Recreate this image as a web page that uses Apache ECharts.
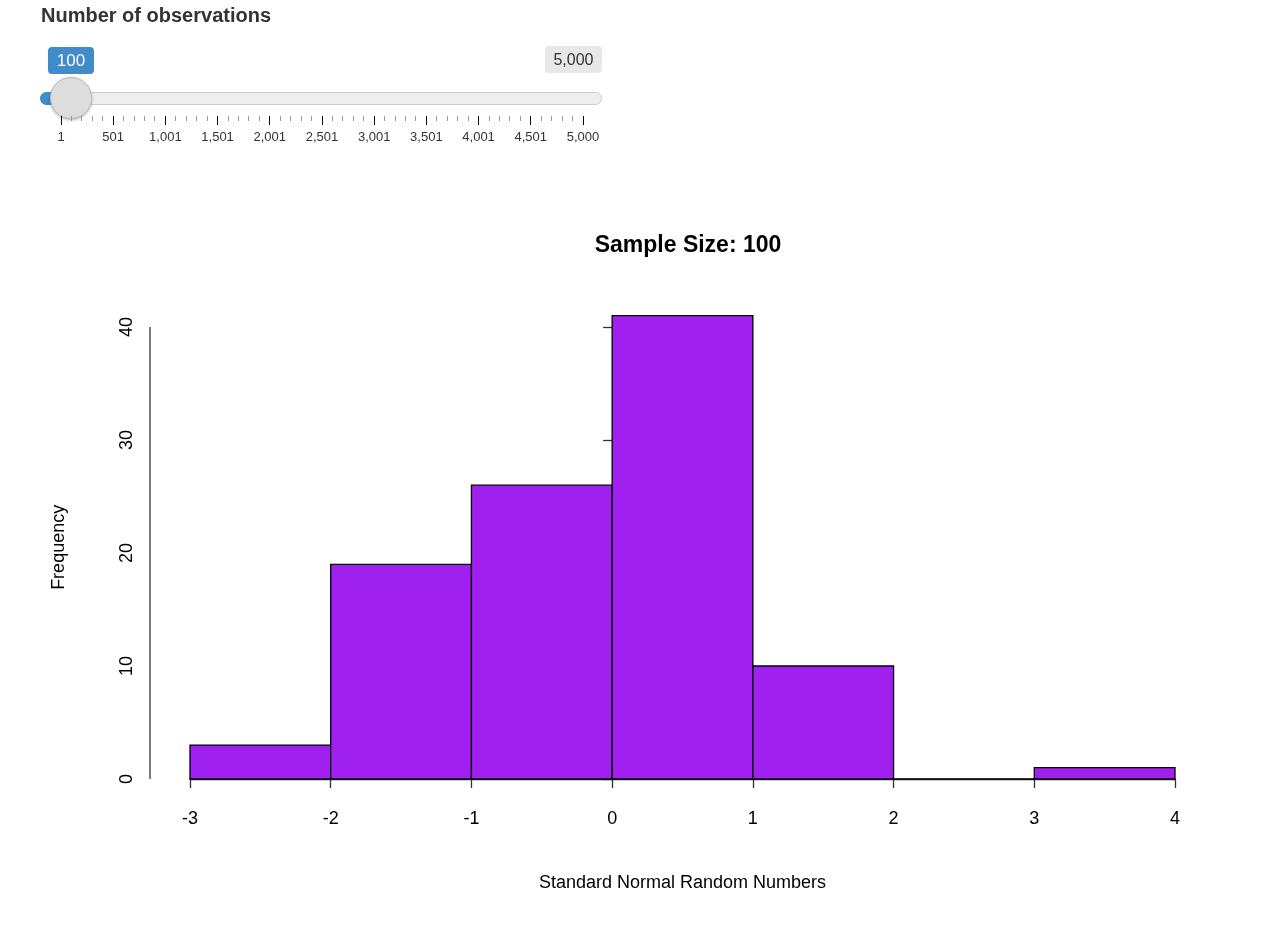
<!DOCTYPE html>
<html><head><meta charset="utf-8">
<script src="https://cdn.jsdelivr.net/npm/echarts@6/dist/echarts.min.js"></script>
<style>
body{margin:0;width:1275px;height:937px;background:#fff;font-family:"Liberation Sans",Arial,sans-serif;position:relative;overflow:hidden}
#chart{position:absolute;left:0;top:0;width:1275px;height:937px}
.abs{position:absolute}
#sl{position:absolute;left:0;top:0;width:640px;height:160px;z-index:2}
</style></head><body>
<div id="chart"></div>
<div id="sl">
 <div class="abs" style="left:41px;top:4px;font-size:20px;font-weight:bold;color:#333">Number of observations</div>
 <div class="abs" style="left:48px;top:47px;width:46px;height:27px;background:#428bca;border-radius:4px;color:#fff;font-size:17px;line-height:27px;text-align:center">100</div>
 <div class="abs" style="left:545px;top:46px;width:57px;height:27px;background:#e8e8e8;border-radius:4px;color:#333;font-size:16px;line-height:27px;text-align:center">5,000</div>
 <div class="abs" style="left:40px;top:92px;width:562px;height:13px;background:#eee;border:1px solid #ccc;border-radius:7px;box-sizing:border-box"></div>
 <div class="abs" style="left:40px;top:92px;width:32px;height:13px;background:#428bca;border-radius:7px 0 0 7px"></div>
 <div class="abs" style="left:50px;top:77px;width:42px;height:42px;background:#ddd;border:1px solid #bbb;border-radius:50%;box-sizing:border-box;box-shadow:0 1px 3px rgba(0,0,0,.3)"></div>
 <div id="ticks"></div>
</div>
<script>
const sliderLabels=["1","501","1,001","1,501","2,001","2,501","3,001","3,501","4,001","4,501","5,000"];
const binEdges=[-3,-2,-1,0,1,2,3,4];
const counts=[3,19,26,41,10,0,1];
const xTicks=[-3,-2,-1,0,1,2,3,4];
const yTicks=[0,10,20,30,40];

// slider ticks
(function(){
 const t=document.getElementById('ticks');let h='';
 const x0=61,x1=583;
 for(let i=0;i<=50;i++){
  const x=x0+(x1-x0)*i/50;const major=i%5===0;
  h+=`<div class="abs" style="left:${x-0.5}px;top:${major?116:116}px;width:1px;height:${major?9:5}px;background:${major?'#000':'#999'}"></div>`;
 }
 sliderLabels.forEach((l,i)=>{const x=x0+(x1-x0)*i/10;
  h+=`<div class="abs" style="left:${x-30}px;top:129px;width:60px;text-align:center;font-size:13px;color:#333">${l}</div>`;});
 t.innerHTML=h;
})();

const chart=echarts.init(document.getElementById('chart'));
const data=counts.map((c,i)=>[binEdges[i],binEdges[i+1],c]);
const F='"Liberation Sans",Arial,sans-serif';
chart.setOption({
 animation:false,
 title:{text:'Sample Size: 100',left:683,top:229,textAlign:'center',textStyle:{fontSize:23,fontWeight:'bold',color:'#000',fontFamily:F}},
 grid:{left:190,right:100,top:315.7,bottom:158},
 xAxis:{type:'value',min:-3,max:4,interval:1,offset:19,
  axisLine:{show:true,lineStyle:{color:'#333',width:1.3}},
  axisTick:{show:true,inside:false,length:9,lineStyle:{color:'#333',width:1.3}},
  axisLabel:{fontSize:18,color:'#000',margin:12,fontFamily:F},splitLine:{show:false},
  name:'Standard Normal Random Numbers',nameLocation:'middle',nameGap:76,nameTextStyle:{fontSize:18,color:'#000',fontFamily:F}},
 yAxis:{type:'value',min:0,max:41,offset:40,
  axisLine:{show:false},
  axisTick:{show:true,length:9,customValues:yTicks,lineStyle:{color:'#333',width:1.3}},
  axisLabel:{customValues:yTicks,rotate:90,fontSize:18,color:'#000',margin:14,fontFamily:F},
  splitLine:{show:false},
  name:'Frequency',nameLocation:'middle',nameGap:82,nameRotate:90,nameTextStyle:{fontSize:18,color:'#000',fontFamily:F}},
 series:[{type:'custom',data:data,
  renderItem:(p,api)=>{
   const a=api.coord([api.value(0),api.value(2)]),b=api.coord([api.value(1),0]);
   return {type:'rect',shape:{x:a[0],y:a[1],width:b[0]-a[0],height:b[1]-a[1]},
    style:{fill:'#A020F0',stroke:'#000',lineWidth:1.3}};
  },encode:{x:[0,1],y:2}}]
});
const p0=chart.convertToPixel({gridIndex:0},[-3,0]);
const p1=chart.convertToPixel({gridIndex:0},[-3,40]);
chart.setOption({graphic:[{type:'line',shape:{x1:p0[0]-40,y1:p0[1],x2:p1[0]-40,y2:p1[1]},style:{stroke:'#333',lineWidth:1.3}}]});
</script>
</body></html>
